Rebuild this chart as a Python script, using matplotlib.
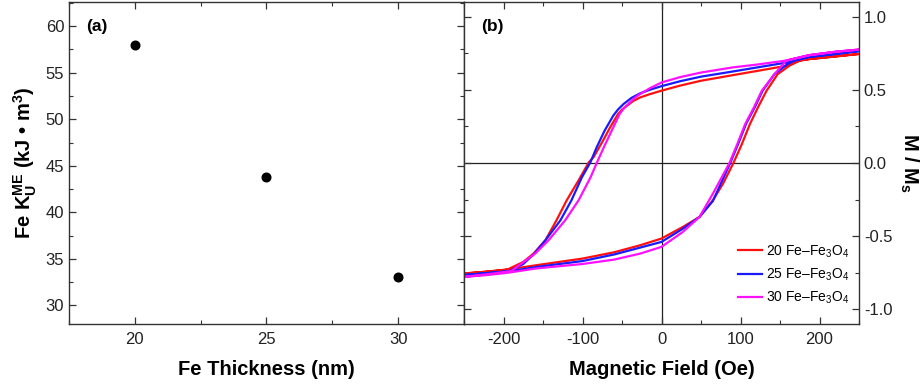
import matplotlib
matplotlib.use("Agg")
import matplotlib.pyplot as plt
from matplotlib.ticker import MultipleLocator, FormatStrFormatter

plt.rcParams["font.family"] = ["Liberation Sans", "DejaVu Sans"]
plt.rcParams["axes.unicode_minus"] = False
plt.rcParams["mathtext.fontset"] = "custom"
plt.rcParams["mathtext.rm"] = "Liberation Sans:bold"
plt.rcParams["mathtext.bf"] = "Liberation Sans:bold"
plt.rcParams["mathtext.it"] = "Liberation Sans:italic:bold"
plt.rcParams["mathtext.sf"] = "Liberation Sans"

# ---- panel (a): anisotropy vs Fe thickness ----
thickness_nm = [20, 25, 30]
k_me = [58.0, 43.8, 33.1]

# ---- panel (b): hysteresis loops (descending and ascending branches) ----
samples = ["20 Fe\u2013Fe$_\\mathsf{3}$O$_\\mathsf{4}$",
           "25 Fe\u2013Fe$_\\mathsf{3}$O$_\\mathsf{4}$",
           "30 Fe\u2013Fe$_\\mathsf{3}$O$_\\mathsf{4}$"]
colors = ["#ff1010", "#1a1aff", "#ff10ff"]

h_down_20 = [250, 220, 187, 175, 158, 120, 90, 50, 23, 0, -15, -27, -36, -44, -50, -55,
             -65, -74, -86, -92, -105, -120, -133, -147, -162, -175, -195, -220, -250]
m_down_20 = [0.745, 0.728, 0.71, 0.70, 0.664, 0.628, 0.60, 0.562, 0.528, 0.494, 0.47,
             0.448, 0.423, 0.39, 0.365, 0.335, 0.244, 0.153, 0.04, 0.005, -0.119, -0.255,
             -0.392, -0.528, -0.619, -0.676, -0.728, -0.742, -0.755]
h_up_20 = [-250, -220, -195, -158, -100, -60, -27, 0, 27, 48, 65, 78, 91, 101, 112, 123,
           133, 147, 162, 175, 187, 220, 250]
m_up_20 = [-0.755, -0.742, -0.728, -0.698, -0.653, -0.61, -0.562, -0.516, -0.437, -0.369,
           -0.255, -0.14, 0.0, 0.12, 0.267, 0.39, 0.494, 0.607, 0.665, 0.70, 0.71, 0.728,
           0.745]

h_down_25 = [250, 220, 187, 168, 159, 120, 90, 50, 23, 0, -15, -27, -38, -48, -55, -61,
             -72, -82, -90, -101, -114, -128, -147, -162, -175, -192, -220, -250]
m_down_25 = [0.765, 0.745, 0.725, 0.70, 0.687, 0.652, 0.625, 0.59, 0.558, 0.525, 0.50,
             0.476, 0.445, 0.403, 0.366, 0.324, 0.221, 0.108, 0.005, -0.10, -0.255,
             -0.392, -0.528, -0.625, -0.69, -0.738, -0.752, -0.766]
h_up_25 = [-250, -220, -195, -158, -100, -60, -27, 0, 27, 48, 65, 76, 87, 97, 107, 118,
           128, 143, 158, 168, 187, 220, 250]
m_up_25 = [-0.766, -0.752, -0.742, -0.71, -0.67, -0.625, -0.578, -0.539, -0.449, -0.369,
           -0.26, -0.13, 0.0, 0.13, 0.267, 0.38, 0.494, 0.607, 0.67, 0.70, 0.725, 0.745,
           0.765]

h_down_30 = [250, 220, 187, 158, 120, 90, 50, 23, 0, -15, -27, -34, -40, -47, -53, -63,
             -72, -82, -90, -105, -122, -143, -160, -178, -190, -220, -250]
m_down_30 = [0.775, 0.76, 0.737, 0.70, 0.672, 0.653, 0.618, 0.586, 0.55, 0.51, 0.471,
             0.445, 0.414, 0.378, 0.335, 0.221, 0.119, 0.0, -0.10, -0.255, -0.392,
             -0.528, -0.619, -0.69, -0.738, -0.76, -0.778]
h_up_30 = [-250, -220, -195, -158, -100, -60, -27, 0, 27, 48, 65, 76, 86, 96, 106, 117,
           127, 143, 158, 187, 220, 250]
m_up_30 = [-0.778, -0.765, -0.75, -0.72, -0.69, -0.66, -0.619, -0.573, -0.471, -0.369,
           -0.21, -0.10, 0.0, 0.13, 0.267, 0.38, 0.494, 0.607, 0.70, 0.737, 0.76, 0.775]

loops = [(h_down_20, m_down_20, h_up_20, m_up_20),
         (h_down_25, m_down_25, h_up_25, m_up_25),
         (h_down_30, m_down_30, h_up_30, m_up_30)]

W, H = 923, 387
fig = plt.figure(figsize=(W / 100, H / 100), dpi=100)
ax_a = fig.add_axes([69 / W, 1 - 324 / H, (464 - 69) / W, (324 - 2) / H])
ax_b = fig.add_axes([464 / W, 1 - 324 / H, (859 - 464) / W, (324 - 2) / H])

spine_color = "#333333"
for ax in (ax_a, ax_b):
    for s in ax.spines.values():
        s.set_color(spine_color)
        s.set_linewidth(1.0)
    ax.tick_params(which="both", direction="in", top=True, right=True, colors=spine_color,
                   labelcolor="#222222", labelsize=12)
    ax.tick_params(which="major", length=5, width=0.9)
    ax.tick_params(which="minor", length=3, width=0.8)

# panel (a)
ax_a.plot(thickness_nm, k_me, "o", color="black", markersize=6.2)
ax_a.set_xlim(17.5, 32.5)
ax_a.set_ylim(28.0, 62.6)
ax_a.xaxis.set_major_locator(MultipleLocator(5))
ax_a.xaxis.set_minor_locator(MultipleLocator(2.5))
ax_a.yaxis.set_major_locator(MultipleLocator(5))
ax_a.yaxis.set_minor_locator(MultipleLocator(2.5))
ax_a.tick_params(axis="x", pad=6)
ax_a.set_xlabel("Fe Thickness (nm)", fontsize=14.5, fontweight="bold", labelpad=9)
ax_a.set_ylabel("Fe K$_\\mathrm{U}^\\mathrm{ME}$ (kJ \u2022 m$^\\mathrm{3}$)",
                fontsize=14.5, fontweight="bold", labelpad=5)
ax_a.text(17 / 395, 1 - 24 / 322, "(a)", transform=ax_a.transAxes, fontsize=12.5,
          fontweight="bold", va="center")

# panel (b)
ax_b.axhline(0, color="#222222", lw=0.9, zorder=1)
ax_b.axvline(0, color="#222222", lw=0.9, zorder=1)
for (hd, md, hu, mu), c, lab in zip(loops, colors, samples):
    ax_b.plot(hd + hu, md + mu, color=c, lw=1.6, label=lab, zorder=2)
ax_b.set_xlim(-250, 250)
ax_b.set_ylim(-1.1, 1.1)
ax_b.xaxis.set_major_locator(MultipleLocator(100))
ax_b.xaxis.set_minor_locator(MultipleLocator(50))
ax_b.yaxis.set_major_locator(MultipleLocator(0.5))
ax_b.yaxis.set_minor_locator(MultipleLocator(0.25))
ax_b.yaxis.set_major_formatter(FormatStrFormatter("%.1f"))
ax_b.tick_params(axis="y", labelleft=False, labelright=True)
ax_b.tick_params(axis="x", pad=6)
ax_b.yaxis.set_label_position("right")
ax_b.set_ylabel("M / M$_\\mathrm{s}$", fontsize=14.5, fontweight="bold", rotation=270,
                labelpad=20)
ax_b.set_xlabel("Magnetic Field (Oe)", fontsize=14.5, fontweight="bold", labelpad=9)
ax_b.text(17 / 395, 1 - 24 / 322, "(b)", transform=ax_b.transAxes, fontsize=12.5,
          fontweight="bold", va="center")
ax_b.legend(loc="lower right", bbox_to_anchor=(1.0, 0.025), frameon=False, fontsize=10,
            handlelength=1.7, handletextpad=0.3, labelspacing=0.5, borderaxespad=0.3)

fig.savefig("out.png", dpi=100)
